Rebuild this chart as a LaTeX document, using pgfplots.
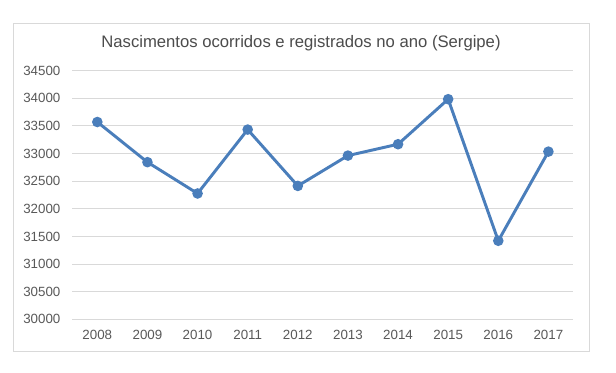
\documentclass[border=0pt]{standalone}
\usepackage{pgfplots}
\pgfplotsset{compat=1.18}
\usepackage{fontspec}
\setmainfont{Liberation Sans}
\definecolor{linecol}{RGB}{74,126,187}
\definecolor{gridcol}{RGB}{217,217,217}
\definecolor{framecol}{RGB}{217,217,217}
\definecolor{txtcol}{RGB}{89,89,89}
\begin{document}
\begin{tikzpicture}
\path (0,0) rectangle (462pt,279pt);
\draw[framecol, line width=0.75pt, fill=white] (9.975pt,15.2pt) rectangle (441.9pt,261pt);
\node[text=txtcol!85!black, font=\fontsize{12.5}{15}\selectfont] at (225.75pt,246.5pt) {Nascimentos ocorridos e registrados no ano (Sergipe)};
\begin{axis}[
  at={(54.2pt,39.5pt)}, anchor=south west,
  scale only axis, width=375.9pt, height=186.45pt,
  xmin=2007.5, xmax=2017.5, ymin=30000, ymax=34500,
  scaled y ticks=false, scaled x ticks=false,
  xtick={2008,2009,2010,2011,2012,2013,2014,2015,2016,2017},
  xticklabels={2008,2009,2010,2011,2012,2013,2014,2015,2016,2017},
  ytick={30000,30500,31000,31500,32000,32500,33000,33500,34000,34500},
  yticklabels={30000,30500,31000,31500,32000,32500,33000,33500,34000,34500},
  ymajorgrids, major grid style={gridcol, line width=0.75pt},
  axis line style={draw=none}, tick style={draw=none},
  major tick length=0pt,
  ticklabel style={text=txtcol, font=\fontsize{10}{12}\selectfont},
  yticklabel style={anchor=east, inner sep=0pt, xshift=-8.7pt},
  xticklabel style={anchor=center, inner sep=0pt, yshift=-11.8pt},
  clip=false,
]
\addplot[linecol, line width=2.2pt, mark=*, mark size=2.8pt, mark options={fill=linecol, draw=none}] coordinates {
(2008,33572) (2009,32845) (2010,32278) (2011,33435) (2012,32415)
(2013,32964) (2014,33170) (2015,33985) (2016,31422) (2017,33036)
};
\end{axis}
\end{tikzpicture}
\end{document}
